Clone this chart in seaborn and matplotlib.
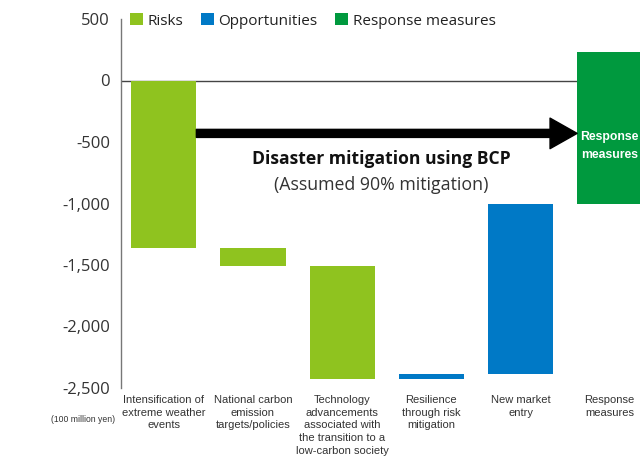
import matplotlib
matplotlib.use("Agg")
import matplotlib.pyplot as plt
import seaborn as sns
import numpy as np
from matplotlib.patches import Patch

# ---- data ----
categories = [
    "Intensification of\nextreme weather\nevents",
    "National carbon\nemission\ntargets/policies",
    "Technology\nadvancements\nassociated with\nthe transition to a\nlow-carbon society",
    "Resilience\nthrough risk\nmitigation",
    "New market\nentry",
    "Response\nmeasures",
]
changes = [-1360, -150, -920, 45, 1385, 1230]
kinds = ["Risks", "Risks", "Risks", "Opportunities", "Opportunities", "Response measures"]
legend_labels = ["Risks", "Opportunities", "Response measures"]
yticks = [500, 0, -500, -1000, -1500, -2000, -2500]
ytick_labels = ["500", "0", "-500", "-1,000", "-1,500", "-2,000", "-2,500"]
arrow_level = -430
arrow_title = "Disaster mitigation using BCP"
arrow_subtitle = "(Assumed 90% mitigation)"
bar_note = "Response\nmeasures"
unit_label = "(100 million yen)"

palette = {"Risks": "#8fc31f", "Opportunities": "#0079c6", "Response measures": "#00993e"}

starts = np.concatenate([[0], np.cumsum(changes)[:-1]])

sns.set_theme(style="white")
plt.rcParams["font.family"] = ["Open Sans", "DejaVu Sans"]
narrow = ["Liberation Sans", "DejaVu Sans"]

fig = plt.figure(figsize=(6.4, 4.58), dpi=100)
ax = fig.add_axes([121 / 640, 70 / 458, 1 - 121 / 640, (388 - 19) / 458])

sns.barplot(
    x=categories, y=changes, order=categories, ax=ax, errorbar=None,
    width=0.73, bottom=starts, color=palette["Risks"], saturation=1,
    facecolor=[palette[k] for k in kinds], edgecolor="none", linewidth=0,
    zorder=2,
)

ax.axhline(0, color="#444444", lw=1, zorder=1)

ax.set_xlim(-0.48, 5.34)
ax.set_ylim(-2500, 500)
ax.set_yticks(yticks, ytick_labels)
ax.tick_params(axis="y", length=0, pad=8, labelsize=12, labelcolor="#333333")
ax.tick_params(axis="x", length=0, pad=5, labelsize=8, labelcolor="#333333")
for lab in ax.get_xticklabels():
    lab.set_family(narrow)
    lab.set_linespacing(1.33)
ax.set_xlabel("")
ax.set_ylabel("")

for s in ["top", "right", "bottom"]:
    ax.spines[s].set_visible(False)
ax.spines["left"].set_color("#777777")
ax.spines["left"].set_linewidth(1)

# arrow
ax.annotate(
    "", xy=(4.635, arrow_level), xytext=(0.365, arrow_level),
    arrowprops=dict(arrowstyle="simple,head_width=2.2,head_length=1.95,tail_width=0.58",
                    mutation_scale=10, color="black", shrinkA=0, shrinkB=0),
    zorder=3,
)
ax.text(2.44, -640, arrow_title, ha="center", va="center", fontsize=12.6,
        fontweight="bold", color="#111111")
ax.text(2.44, -852, arrow_subtitle, ha="center", va="center", fontsize=12.8,
        color="#333333")
ax.text(5.0, -530, bar_note, ha="center", va="center", fontsize=8.8,
        fontweight="bold", color="white", family=narrow, linespacing=1.65, zorder=4)

fig.text(83 / 640, 1 - 420 / 458, unit_label, ha="center", va="center",
         fontsize=6.2, color="#333333", family=narrow)

handles = [Patch(facecolor=palette[k], edgecolor="none") for k in legend_labels]
fig.legend(handles, legend_labels, loc="center left",
           bbox_to_anchor=(130 / 640, 1 - 21 / 458), ncol=3, frameon=False,
           fontsize=11, handlelength=0.85, handleheight=0.85, handletextpad=0.3,
           columnspacing=1.15, borderpad=0, borderaxespad=0, labelcolor="#222222")

fig.savefig("out.png", dpi=100)
